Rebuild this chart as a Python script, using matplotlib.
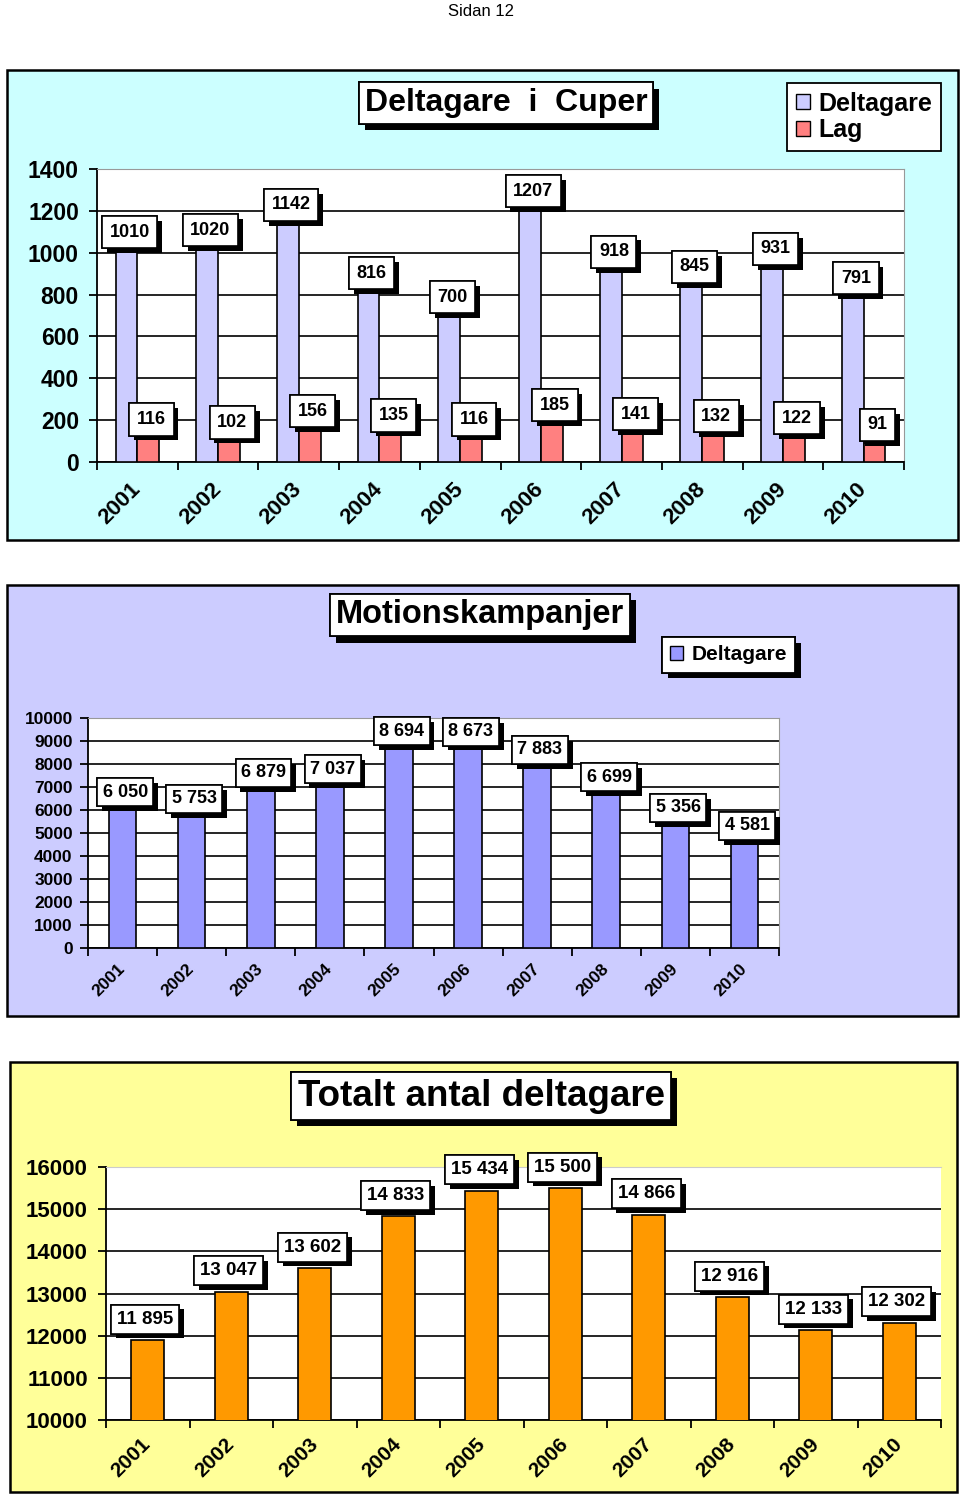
import matplotlib
matplotlib.use("Agg")
import matplotlib.pyplot as plt
import matplotlib.patheffects as pe
from matplotlib.patches import Rectangle, Patch
import numpy as np

plt.rcParams['font.family'] = ['Liberation Sans', 'DejaVu Sans']

years = ['2001', '2002', '2003', '2004', '2005', '2006', '2007', '2008', '2009', '2010']
cup_deltagare = [1010, 1020, 1142, 816, 700, 1207, 918, 845, 931, 791]
cup_lag = [116, 102, 156, 135, 116, 185, 141, 132, 122, 91]
motion_deltagare = [6050, 5753, 6879, 7037, 8694, 8673, 7883, 6699, 5356, 4581]
totalt = [11895, 13047, 13602, 14833, 15434, 15500, 14866, 12916, 12133, 12302]

W, H = 960, 1495
fig = plt.figure(figsize=(W / 100, H / 100), dpi=100)
fig.patch.set_facecolor('white')


def fx(px):
    return px / W


def fy(py):
    return 1 - py / H


def panel(x0, y0, x1, y1, color):
    fig.patches.append(Rectangle((fx(x0), fy(y1)), fx(x1) - fx(x0), fy(y0) - fy(y1),
                                 transform=fig.transFigure, facecolor=color,
                                 edgecolor='black', linewidth=1.8, zorder=-5))


def shadow(offset=4):
    return [pe.withSimplePatchShadow(offset=(offset, -offset), shadow_rgbFace='black', alpha=1.0),
            pe.Normal()]


def title_box(cx, cy, text, size):
    t = fig.text(fx(cx), fy(cy), text, ha='center', va='center', fontsize=size,
                 fontweight='bold', zorder=5,
                 bbox=dict(boxstyle='square,pad=0.18', facecolor='white', edgecolor='black', linewidth=1.3))
    t.get_bbox_patch().set_path_effects(shadow(4.5))
    return t


def make_axes(left, top, right, bottom):
    ax = fig.add_axes([fx(left), fy(bottom), fx(right) - fx(left), fy(top) - fy(bottom)])
    ax.set_zorder(1)
    ax.set_facecolor('white')
    ax.set_axisbelow(True)
    ax.spines['top'].set_color('#999999')
    ax.spines['right'].set_color('#999999')
    ax.spines['left'].set_linewidth(1.3)
    ax.spines['bottom'].set_linewidth(1.3)
    ax.yaxis.grid(True, color='black', linewidth=1.2)
    ax.set_xlim(-0.5, len(years) - 0.5)
    ax.set_xticks(np.arange(len(years)))
    ax.set_xticks(np.arange(len(years) + 1) - 0.5, minor=True)
    ax.tick_params(axis='x', which='major', length=0)
    ax.tick_params(axis='x', which='minor', length=6, width=1.3, direction='out')
    ax.tick_params(axis='y', length=6, width=1.3, direction='out', pad=7)
    return ax


def fmt(v):
    return f"{v:,}".replace(',', ' ')


def label(ax, x, y, text, size, off=8, pad=0.35):
    a = ax.annotate(text, (x, y), xytext=(0, off), textcoords='offset points',
                    ha='center', va='bottom', fontsize=size, fontweight='bold', zorder=6,
                    bbox=dict(boxstyle=f'square,pad={pad}', facecolor='white', edgecolor='black', linewidth=1.2),
                    annotation_clip=False)
    a.get_bbox_patch().set_path_effects(shadow(3.5))


x = np.arange(len(years))

# header
fig.text(fx(481), fy(11), 'Sidan 12', ha='center', va='center', fontsize=12)

# ---------------- Panel 1 ----------------
panel(7, 70, 958, 540, '#CCFFFF')
ax1 = make_axes(97, 169, 904, 462)
bw = 0.27
ax1.bar(x - bw / 2, cup_deltagare, bw, color='#CCCCFF', edgecolor='black', linewidth=1.2, zorder=3)
ax1.bar(x + bw / 2, cup_lag, bw, color='#FF8080', edgecolor='black', linewidth=1.2, zorder=3)
ax1.set_ylim(0, 1400)
ax1.set_yticks(np.arange(0, 1401, 200))
ax1.set_xticklabels(years, rotation=45, ha='right', va='center', rotation_mode='anchor',
                    fontsize=16, fontweight='bold')
ax1.tick_params(axis='x', which='major', pad=17)
for lab in ax1.get_yticklabels():
    lab.set_fontsize(16.5)
    lab.set_fontweight('bold')
for i in range(len(years)):
    label(ax1, x[i] - bw / 2 + 0.04, cup_deltagare[i], str(cup_deltagare[i]), 13, off=7, pad=0.42)
    label(ax1, x[i] + bw / 2 + 0.04, cup_lag[i], str(cup_lag[i]), 13, off=7, pad=0.42)
title_box(506, 103, 'Deltagare  i  Cuper', 23)
leg1 = fig.legend(handles=[Patch(facecolor='#CCCCFF', edgecolor='black', label='Deltagare'),
                           Patch(facecolor='#FF8080', edgecolor='black', label='Lag')],
                  loc='upper right', bbox_to_anchor=(fx(941), fy(83)),
                  prop=dict(size=18, weight='bold'), frameon=True, fancybox=False, framealpha=1,
                  handlelength=0.55, handleheight=0.55, handletextpad=0.35,
                  labelspacing=0.1, borderpad=0.35, borderaxespad=0)
leg1.get_frame().set_edgecolor('black')
leg1.get_frame().set_linewidth(1.3)
leg1.set_zorder(6)

# ---------------- Panel 2 ----------------
panel(7, 585, 958, 1016, '#CCCCFF')
ax2 = make_axes(88, 718, 779, 948)
bw2 = 0.4
ax2.bar(x, motion_deltagare, bw2, color='#9999FF', edgecolor='black', linewidth=1.2, zorder=3)
ax2.set_ylim(0, 10000)
ax2.set_yticks(np.arange(0, 10001, 1000))
ax2.tick_params(axis='y', pad=5)
ax2.set_xticklabels(years, rotation=45, ha='right', va='center', rotation_mode='anchor',
                    fontsize=12.5, fontweight='bold')
ax2.tick_params(axis='x', which='major', pad=13)
for lab in ax2.get_yticklabels():
    lab.set_fontsize(12.5)
    lab.set_fontweight('bold')
for i in range(len(years)):
    label(ax2, x[i] + 0.04, motion_deltagare[i], fmt(motion_deltagare[i]), 13, off=6, pad=0.3)
title_box(480, 615, 'Motionskampanjer', 23.5)
leg2 = fig.legend(handles=[Patch(facecolor='#9999FF', edgecolor='black', label='Deltagare')],
                  loc='upper left', bbox_to_anchor=(fx(662), fy(637)),
                  prop=dict(size=15, weight='bold'), frameon=True, fancybox=False, framealpha=1,
                  handlelength=0.6, handleheight=0.6, handletextpad=0.4,
                  borderpad=0.4, borderaxespad=0)
leg2.get_frame().set_edgecolor('black')
leg2.get_frame().set_linewidth(1.3)
leg2.get_frame().set_path_effects(shadow(4))
leg2.set_zorder(6)

# ---------------- Panel 3 ----------------
panel(10, 1062, 957, 1492, '#FFFF99')
ax3 = make_axes(106, 1167, 941, 1420)
ax3.bar(x, totalt, bw2, color='#FF9900', edgecolor='black', linewidth=1.2, zorder=3)
ax3.set_ylim(10000, 16000)
ax3.set_yticks(np.arange(10000, 16001, 1000))
ax3.spines['top'].set_color('#CCCCCC')
ax3.spines['right'].set_visible(False)
ax3.set_xticklabels(years, rotation=45, ha='right', va='center', rotation_mode='anchor',
                    fontsize=15, fontweight='bold')
ax3.tick_params(axis='x', which='major', pad=15)
for lab in ax3.get_yticklabels():
    lab.set_fontsize(16)
    lab.set_fontweight('bold')
for i in range(len(years)):
    label(ax3, x[i] - 0.03, totalt[i], fmt(totalt[i]), 13.5, off=9, pad=0.32)
title_box(481, 1096, 'Totalt antal deltagare', 26.5)

fig.savefig('out.png', dpi=100, facecolor=fig.get_facecolor())
